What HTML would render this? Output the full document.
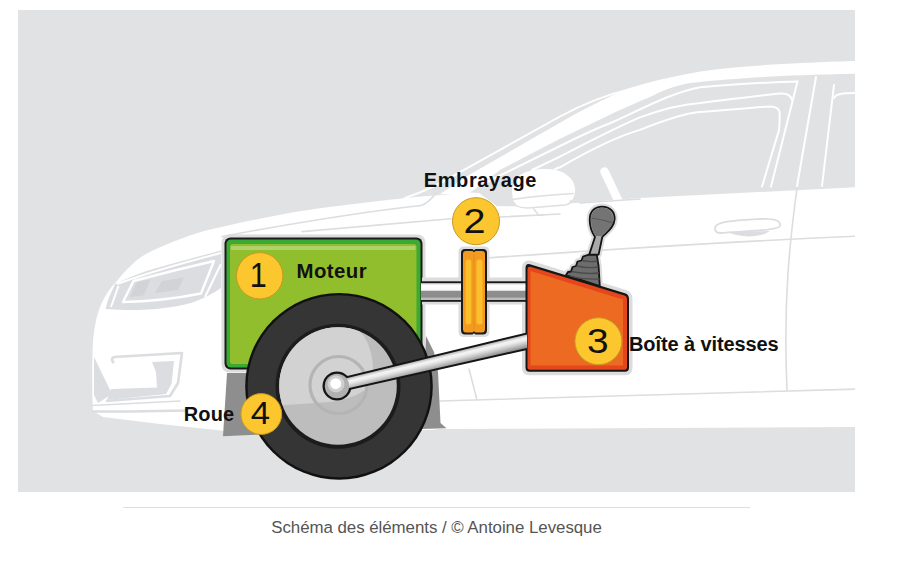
<!DOCTYPE html>
<html><head><meta charset="utf-8">
<style>
html,body{margin:0;padding:0;background:#fff;width:900px;height:561px;overflow:hidden}
svg{position:absolute;left:0;top:0;display:block}
.lbl{font-family:"Liberation Sans",sans-serif;font-weight:700;fill:#111}
.num{font-family:"Liberation Sans",sans-serif;font-weight:400;fill:#111}
.cap{position:absolute;left:0;width:873px;top:517.5px;text-align:center;font-family:"Liberation Sans",sans-serif;font-size:16.9px;letter-spacing:-0.05px;color:#555;line-height:20px}
</style></head><body>
<svg width="900" height="561" viewBox="0 0 900 561">
<defs>
<clipPath id="panel"><rect x="18" y="10" width="837" height="482"/></clipPath>
<linearGradient id="shaftg" x1="0" y1="0" x2="0" y2="1">
<stop offset="0" stop-color="#d8d8d8"/><stop offset="0.15" stop-color="#fff"/><stop offset="0.42" stop-color="#f6f6f6"/><stop offset="0.48" stop-color="#8e8e8e"/><stop offset="0.82" stop-color="#8c8c8c"/><stop offset="0.9" stop-color="#bcbcbc"/><stop offset="1" stop-color="#bcbcbc"/>
</linearGradient>
<linearGradient id="armg" gradientUnits="userSpaceOnUse" x1="428.3" y1="357" x2="431.7" y2="371">
<stop offset="0" stop-color="#9c9c9c"/><stop offset="0.3" stop-color="#f4f4f4"/><stop offset="0.45" stop-color="#ececec"/><stop offset="0.7" stop-color="#c4c4c4"/><stop offset="1" stop-color="#8a8a8a"/>
</linearGradient>
</defs>
<!-- panel -->
<rect x="18" y="10" width="837" height="482" fill="#e1e2e4"/>
<g clip-path="url(#panel)">
<!-- car body white -->
<path fill="#fff" d="M99,310 C103,298 110,288 117,281 C124,272 135,260 146,254 C160,247 185,236 210,229.6 C240,222.5 270,216.5 295,212 C330,206.5 380,200.5 421.7,196.5 L470,192.5 L479,193 L497,206.3 L515,206.3 L575,203 L640,198 L860,187 L860,427 L440,429 L430,430 L226,431 L160,424 L103,417 L93,411 C92,395 92,360 93,341 C94,330 96,318 99,310 Z"/>
<!-- roof band / A pillar -->
<path fill="#fff" d="M440,194 L472.8,172.7 L560,122.8 C575,114 590,106 605,99 C615,94 622,91 629,88.3 C648,82 667,77.5 687,73.9 C705,70.5 725,68 744,66.7 C765,65 785,63.5 802,62.9 C820,62 840,61.2 860,60.8 L860,73.7 C840,74.2 820,74.7 802,75.3 C780,76 760,77 744,78.2 C720,80 700,81.5 687,83.5 C670,87 660,92 650,97 C635,103 625,108 613.5,113 L560,138.8 L500,170 L482,184 L468,194 Z"/>
<!-- thin white lines on gray -->
<g fill="none" stroke="#fff" stroke-width="2" stroke-linecap="round">
<path d="M405,198 C420,193 435,187 461.4,171.3 L560,116.5 C585,103 605,95 631,88.9"/>
<path d="M485,183 L560,146 C580,136 600,127 613,122 C640,110 670,93 700,87.2 C740,84 775,82 797.5,81.5 L771,186.5"/>
<path d="M532,170 L560,156.6 C590,141 615,128 640,117.4 C665,108 685,104 700,102.9 C730,99.5 760,95 781,93.6 C788,93.5 791,96 792,100"/>
<path d="M555,169 L560,167.3 C590,150 615,137 640,129.9 C665,120 685,113 700,112.1 C730,110 755,107.5 769.5,106.4 C776,106.5 779,108 779.5,112 C780,118 779.5,124 779,130 L762,186.5"/>
<path d="M816,77 L797,186"/>
<path d="M834,85 L822,186"/>
<path d="M834,98 C836,94 842,93 856,93"/>
</g>
<!-- window reflection stripe -->
<path d="M604.5,171.5 L618,200" stroke="#fff" stroke-width="8.5" stroke-linecap="round"/>
<!-- mirror -->
<path fill="#fff" d="M512,190 C512,174 530,168 548,169 C566,170 576,180 575,192 C574,202 566,208 548,208 L520,208 C514,206 512,198 512,190 Z"/>
<path d="M512.5,199.4 C530,197 555,194.5 573.8,193.6" fill="none" stroke="#dedfe1" stroke-width="1.5"/>
<path d="M514,203 C516,207 520,208 528,208 L565,205 C569,204.5 571,203 571,200 M533,208 L538.5,215 L543.6,215.6" fill="none" stroke="#dedfe1" stroke-width="1.5"/>

<!-- gray lines on white body -->
<g fill="none" stroke="#dcdde0" stroke-width="1.6" stroke-linecap="round">
<path d="M487,258 C600,250 720,242 860,236"/>
<path d="M222,236.5 C300,222 380,210 421,205.5 C428,203.5 432,198 436,193"/>
<path d="M302,231.6 L451,218.7 M500,217 L560,214"/>
<path d="M440,401 C560,398 700,393 860,389"/>
<path d="M469,369 L477,400"/>
<path d="M797,188 C790,240 783,300 787,390"/>
<path d="M580,203 L640,199"/>
<path d="M92,405.5 L180,401"/>
<path d="M93,411.5 L130,411.5 L187,410.5" stroke-width="2.4"/>
</g>
<!-- door handle -->
<path d="M715,228 C715,221 740,220 760,219 C775,218 781,221 780,226 C778,231 740,231 720,233 C716,233 715,231 715,228 Z" fill="none" stroke="#dcdde0" stroke-width="1.8"/>
<path d="M728,232 C740,238 760,238 770,231 Z" fill="#dcdde0"/>
<!-- headlight -->
<path fill="#dcdde0" d="M108,300 L115,284 C128,278 142,272 155,268.5 C170,264 182,261 192.5,258 C202,255.5 212,253 221,250.5 L221,288 C214,293 205,298 192.5,302.5 C175,307.5 150,310.5 125,310 C117,309.8 110,309 105.5,309 Z"/>
<path fill="none" stroke="#fff" stroke-width="2.4" stroke-linejoin="round" d="M123,302 L133.5,281 C158,274.5 188,267 214,261 L201,293.5 C176,298.5 150,301.5 123,302 Z"/>
<path fill="#d2d3d6" d="M129.5,297 L137,282 L150.5,279.5 L143.5,295.5 Z"/>
<path fill="#d2d3d6" d="M155,293 L162,281 L184,277.5 L178,290 Z"/>
<path fill="none" stroke="#fff" stroke-width="2" d="M111,307 L118.5,286 M205,297 L221,264 M117,284 C150,272 190,261 221,253"/>
<!-- fog light -->
<path fill="#dcdde0" d="M152,362 L174,361 L171.5,384 L166,394 L107,400 L111,389 L157,387.5 L156,372 Z"/>
<path fill="none" stroke="#dcdde0" stroke-width="2.6" stroke-linejoin="round" d="M114,363 Q110,359 114,357 L182,353 L178,383 L170,396 L106,401"/>
<path fill="#dcdde0" d="M94,357 L112,394 L98,403 L94,395 Z"/>
</g>
<!-- wheel arch gray -->
<path fill="#8e8e8e" d="M227,373 L424,373 L426,336 L434,352 L438,372 L440.5,423 L446.5,428.2 L420,429 L250,435 L223,436.2 Z"/>

<!-- halos -->
<rect x="221.5" y="234.5" width="204" height="138" rx="8" fill="#dcdcdc"/>
<!-- green engine box -->
<rect x="224.5" y="237.5" width="198" height="132" rx="6" fill="#1b1b1b"/>
<rect x="226.5" y="239.5" width="194" height="128" rx="4.5" fill="#3aa935"/>
<rect x="230" y="244" width="186.5" height="120" rx="2.5" fill="#91be2d"/>
<rect x="231" y="246" width="184.5" height="4" fill="#afd26a"/>

<!-- shaft -->
<path d="M525.5,268 Q525.5,263 530,264.2 L625,293.3 Q629,294.6 629,299 L629,367.5 Q629,371.8 625,371.8 L529.5,371.8 Q525.5,371.8 525.5,367.5 Z" fill="#dcdcdc" stroke="#dcdcdc" stroke-width="7" stroke-linejoin="round"/>
<path d="M458.5,252 Q458.5,246.5 464,246.5 L484,246.5 Q489.5,246.5 489.5,252 L489.5,332 Q489.5,337 484,337 L464,337 Q458.5,337 458.5,332 Z" fill="#dcdcdc"/>
<rect x="422" y="277.5" width="107" height="27" fill="#dcdcdc"/>
<rect x="421" y="281.3" width="108" height="20.5" fill="#1b1b1b"/>
<rect x="421" y="283.2" width="108" height="16.8" fill="url(#shaftg)"/>

<!-- clutch -->
<path d="M461,253 Q461,249 465,249 L472.5,249 L474,250.3 L475.5,249 L483,249 Q487,249 487,253 L487,330 Q487,334.5 483,334.5 L475.5,334.5 L474,333.2 L472.5,334.5 L465,334.5 Q461,334.5 461,330 Z" fill="#1b1b1b"/>
<path d="M463,254 Q463,251 466,251 L472.5,251 L474,252.3 L475.5,251 L482,251 Q485,251 485,254 L485,329 Q485,332.5 482,332.5 L475.5,332.5 L474,331.2 L472.5,332.5 L466,332.5 Q463,332.5 463,329 Z" fill="#f39a1f"/>
<rect x="465.5" y="259.5" width="5.8" height="65" rx="2.5" fill="#fcbf2c"/>
<rect x="476.5" y="259.5" width="6" height="65" rx="2.5" fill="#fcbf2c"/>
<path d="M474,254 L474,330" stroke="#e8901c" stroke-width="1.2"/>

<!-- gear lever -->
<g stroke-linejoin="round">
<path d="M602,206.6 C610,206.6 615,212 614.6,219.5 C614.2,227 607,232 602.3,237 L598.6,254.6 L596.8,254.6 L598.6,266 L599.8,286 L566,275 L568,272 L571,271.5 L572.5,267 L576,266 L577.5,261.5 L581.5,260.5 L583,256.5 L588.8,254.6 L595,237 C591.5,232 589.7,226 589.7,219.5 C589.7,211 595,206.6 602,206.6 Z" fill="#dcdcdc" stroke="#dcdcdc" stroke-width="6"/>
<path d="M583,256.5 L588.8,254.6 L596.8,254.6 L598.6,266 L599.8,286 L566,275 L568,272 L571,271.5 L572.5,267 L576,266 L577.5,261.5 L581.5,260.5 Z" fill="#6d6d6d" stroke="#141414" stroke-width="1.8"/>
<g stroke="#4c4c4c" stroke-width="1.3" fill="none">
<path d="M582,260.5 Q590,262.5 597.5,261"/><path d="M576.5,266 Q588,268.5 598.3,267"/><path d="M571.5,271.5 Q586,274.5 599,273"/><path d="M567,276 Q584,280 599.5,279"/>
</g>
<path d="M602,206.6 C610,206.6 615,212 614.6,219.5 C614.2,227 607,232 602.3,237 L598.6,254.6 L589.2,254.6 L595,237 C591.5,232 589.7,226 589.7,219.5 C589.7,211 595,206.6 602,206.6 Z" fill="#a9a9a9" stroke="#141414" stroke-width="1.8"/>
<path d="M602,207.8 C609.5,207.8 613.5,213 613.3,219.5 C613,226.5 606.5,231.5 601.5,236 L595.6,236 C592.5,231.5 591,226 591,219.5 C591,212 595.5,207.8 602,207.8 Z" fill="#747474"/>
<path d="M591.5,218 Q602,219.5 613,223" stroke="#5a5a5a" stroke-width="1.1" fill="none"/>
</g>

<!-- gearbox -->
<path d="M525.5,268 Q525.5,263 530,264.2 L625,293.3 Q629,294.6 629,299 L629,367.5 Q629,371.8 625,371.8 L529.5,371.8 Q525.5,371.8 525.5,367.5 Z" fill="#161616"/>
<path d="M527.5,269 Q527.5,266 530.5,266.8 L624.5,295.5 Q627,296.3 627,299 L627,367 Q627,369.8 624.5,369.8 L530,369.8 Q527.5,369.8 527.5,367 Z" fill="#e5461b"/>
<path d="M530.5,271 L623,299.5 L623,365.5 L530.5,365.5 Z" fill="#ec6a22"/>

<!-- wheel -->
<ellipse cx="339" cy="386.3" rx="93.8" ry="93.4" fill="#111"/>
<ellipse cx="339" cy="386.3" rx="91.4" ry="91" fill="#353535"/>
<circle cx="338" cy="386.3" r="62.5" fill="#1c1c1c"/>
<circle cx="338" cy="386" r="58.8" fill="#bdbdbd"/>
<clipPath id="hubc"><circle cx="338" cy="386" r="58.8"/></clipPath>
<path clip-path="url(#hubc)" d="M270,406 L330,402 C350,399 365,393 370,384 C376,370 372,350 365,338 C362,333 358,329 354,326 L270,320 Z" fill="#d2d2d2"/>
<circle cx="338.5" cy="385" r="28.5" fill="none" stroke="#b4b4b4" stroke-width="3.2"/>

<!-- axle arm -->
<path d="M336,378.8 L527,332.5 L527,349.9 L336,393 Z" fill="#141414"/>
<circle cx="337" cy="386" r="14.5" fill="#141414"/>
<path d="M336,380.7 L527,334.4 L527,348 L336,391.1 Z" fill="url(#armg)"/>
<circle cx="337" cy="386" r="12.2" fill="#b0b0b0"/>
<circle cx="336" cy="384" r="8.5" fill="#d0d0d0"/>
<circle cx="335.7" cy="383.7" r="5.5" fill="#fff"/>

<!-- number circles -->
<g fill="#fcc62e" stroke="#c99a1e" stroke-width="1">
<circle cx="259.7" cy="275.8" r="23.2"/>
<circle cx="476" cy="221.2" r="23.5"/>
<circle cx="598.4" cy="341.2" r="23.5"/>
<circle cx="261.3" cy="414" r="20.4"/>
</g>
<g class="num" text-anchor="middle">
<text font-size="36" transform="translate(258.2 287) scale(0.85 1)">1</text>
<text font-size="36" transform="translate(474.6 233) scale(1.1 1)">2</text>
<text font-size="36" transform="translate(597.8 352.6) scale(1.08 1)">3</text>
<text font-size="31.5" transform="translate(260.3 424) scale(1.1 1)">4</text>
</g>

<!-- labels -->
<text class="lbl" x="423.8" y="187.4" font-size="20" letter-spacing="0.6">Embrayage</text>
<text class="lbl" x="296.5" y="277.8" font-size="20.4" letter-spacing="0.45">Moteur</text>
<text class="lbl" x="629" y="350.6" font-size="20" letter-spacing="-0.1">Boîte à vitesses</text>
<text class="lbl" x="183.8" y="421.3" font-size="20" letter-spacing="0.1">Roue</text>

<!-- caption line -->
<rect x="123" y="507" width="627" height="1" fill="#dedede"/>
</svg>
<div class="cap">Schéma des éléments / © Antoine Levesque</div>
</body></html>
